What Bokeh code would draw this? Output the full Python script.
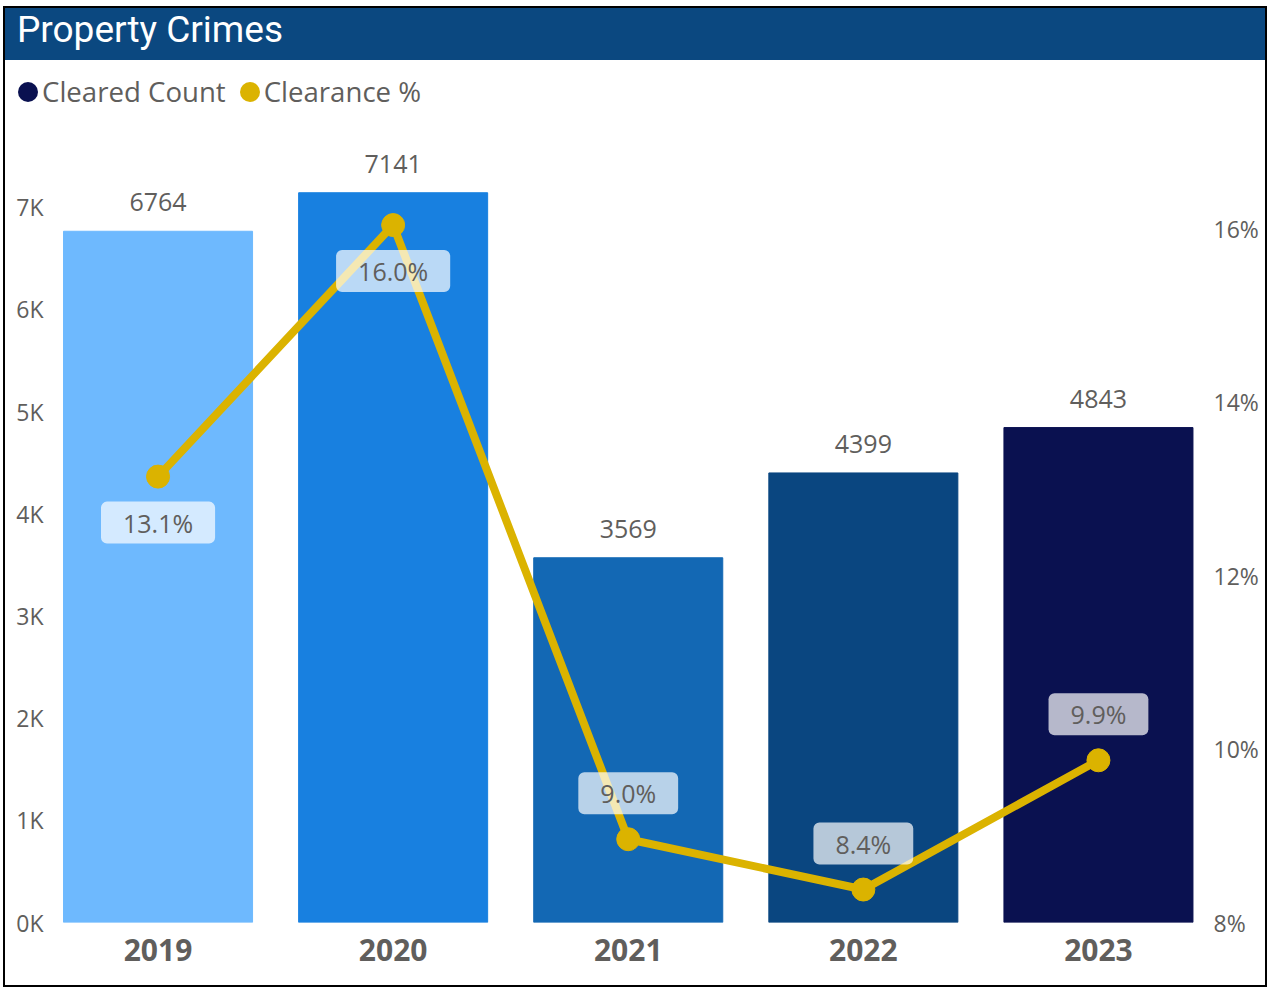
from bokeh.plotting import figure
from bokeh.models import (ColumnDataSource, Range1d, LinearAxis, FixedTicker, Div)
from bokeh.layouts import column
from bokeh.embed import file_html
from bokeh.resources import INLINE
from bokeh.core.properties import value

# ---- data ----
years = ["2019", "2020", "2021", "2022", "2023"]
cleared_count = [6764, 7141, 3569, 4399, 4843]
clearance_pct = [13.14, 16.04, 8.96, 8.38, 9.87]   # shown rounded to 1 decimal
series_names = ["Cleared Count", "Clearance %"]
left_ticks = [0, 1000, 2000, 3000, 4000, 5000, 6000, 7000]
left_tick_labels = ["0K", "1K", "2K", "3K", "4K", "5K", "6K", "7K"]
right_ticks = [8, 10, 12, 14, 16]
right_tick_labels = ["8%", "10%", "12%", "14%", "16%"]

# ---- style ----
bar_colors = ["#6EB9FE", "#1880E0", "#1368B4", "#0A4680", "#0A1150"]
legend_colors = ["#0A1150", "#DBB300"]
line_color = "#DBB300"
text_gray = "#605E5C"
pct_label_side = ["below", "below", "above", "above", "above"]
FONT = "Open Sans"

idx = list(range(len(years)))
src = ColumnDataSource(dict(
    x=idx, year=years, count=cleared_count, color=bar_colors,
    count_text=[str(v) for v in cleared_count],
    pct=clearance_pct,
    pct_text=[f"{v:.1f}%" for v in clearance_pct],
    pct_off=[46 if s == "below" else -46 for s in pct_label_side],
))

p = figure(width=1260, height=861,
           x_range=Range1d(-0.4574, 4.4766), y_range=Range1d(0, 7750),
           output_backend="svg", toolbar_location=None,
           min_border_left=45, min_border_right=55,
           min_border_top=6, min_border_bottom=63, margin=0)
p.extra_y_ranges = {"pct": Range1d(8, 17.13)}
p.outline_line_color = None
p.xgrid.visible = False
p.ygrid.visible = False
p.background_fill_color = "white"
p.border_fill_color = "white"

# left axis
ya = p.yaxis[0]
ya.ticker = FixedTicker(ticks=left_ticks, minor_ticks=[])
ya.major_label_overrides = {t: l for t, l in zip(left_ticks, left_tick_labels)}
# right axis
ra = LinearAxis(y_range_name="pct", ticker=FixedTicker(ticks=right_ticks, minor_ticks=[]))
ra.major_label_overrides = {t: l for t, l in zip(right_ticks, right_tick_labels)}
p.add_layout(ra, "right")
# x axis
xa = p.xaxis[0]
xa.ticker = FixedTicker(ticks=idx, minor_ticks=[])
xa.major_label_overrides = {i: y for i, y in zip(idx, years)}

for ax in (ya, ra):
    ax.axis_line_color = None
    ax.major_tick_line_color = None
    ax.minor_tick_line_color = None
    ax.major_tick_in = 0
    ax.major_tick_out = 0
    ax.major_label_text_font = FONT
    ax.major_label_text_font_size = "23px"
    ax.major_label_text_color = text_gray
ya.major_label_standoff = 7
ra.major_label_standoff = 3
xa.axis_line_color = None
xa.major_tick_line_color = None
xa.minor_tick_line_color = None
xa.major_tick_in = 0
xa.major_tick_out = 0
xa.major_label_standoff = 16
xa.major_label_text_font = FONT
xa.major_label_text_font_size = "30px"
xa.major_label_text_font_style = "bold"
xa.major_label_text_color = text_gray

# bars
p.vbar(x="x", top="count", width=0.804, color="color", source=src)
p.text(x="x", y="count", text="count_text", source=src, y_offset=-29,
       text_align="center", text_baseline="middle",
       text_font=value(FONT), text_font_size="25px", text_color=text_gray)

# line
p.line(x="x", y="pct", source=src, y_range_name="pct",
       line_color=line_color, line_width=8)
p.scatter(x="x", y="pct", source=src, y_range_name="pct",
          marker="circle", size=23, color=line_color)
p.text(x="x", y="pct", text="pct_text", source=src, y_range_name="pct",
       y_offset="pct_off", text_align="center", text_baseline="middle",
       text_font=value(FONT), text_font_size="25px", text_color=text_gray,
       background_fill_color="white", background_fill_alpha=0.7,
       border_radius=6, padding=dict(left=22, right=22, top=4, bottom=4))

# header and legend
title = Div(text="Property Crimes", width=1260, height=52, margin=0,
            styles={"background-color": "#0B4880", "color": "white",
                    "font-family": "Roboto", "font-size": "37px",
                    "font-weight": "normal",
                    "padding-left": "12px", "line-height": "44px",
                    "box-sizing": "border-box", "white-space": "nowrap"})

dot = ('<span style="display:inline-block;width:20px;height:20px;'
       'border-radius:50%;background:{c};margin:0 4px 0 {ml}px;"></span>')
legend_html = ('<div style="display:flex;align-items:center;height:64px;'
               'font-family:\'Open Sans\';font-size:27.6px;color:' + text_gray + ';'
               'white-space:nowrap;padding-left:13px;">'
               + dot.format(c=legend_colors[0], ml=0) + '<span>' + series_names[0] + '</span>'
               + dot.format(c=legend_colors[1], ml=14) + '<span>' + series_names[1] + '</span>'
               + '</div>')
legend_div = Div(text=legend_html, width=1260, height=64, margin=0,
                 styles={"background-color": "white"})

layout = column(title, legend_div, p, spacing=0,
                styles={"outline": "2px solid black",
                        "position": "relative", "left": "5px", "top": "8px"})

open("out.html", "w").write(file_html(layout, INLINE))
